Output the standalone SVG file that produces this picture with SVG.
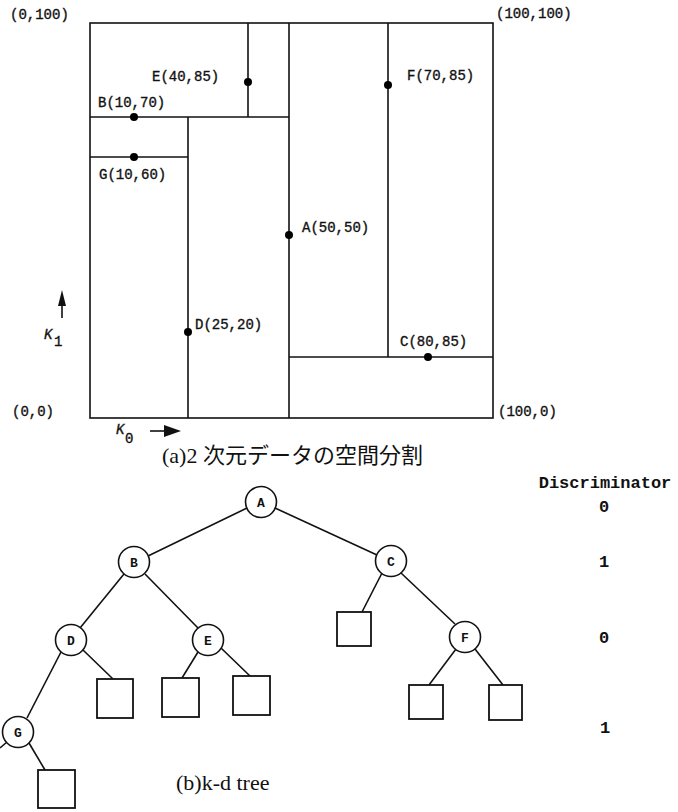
<svg xmlns="http://www.w3.org/2000/svg" width="678" height="812" viewBox="0 0 678 812">
<style>
.ln{stroke:#111;stroke-width:1.6;fill:none}
.dot{fill:#000}
.lbl{font-family:"Liberation Mono","DejaVu Sans Mono",monospace;font-size:14px;fill:#111;stroke:#111;stroke-width:0.35}
.nd{fill:#fff;stroke:#111;stroke-width:1.6}
.nt{font-family:"Liberation Mono","DejaVu Sans Mono",monospace;font-size:13px;font-weight:bold;fill:#111;text-anchor:middle}
.sq{fill:#fff;stroke:#111;stroke-width:1.8}
.cap{font-family:"Liberation Serif","Noto Sans CJK JP",serif;font-size:22px;fill:#111}
.disc{font-family:"Liberation Mono","DejaVu Sans Mono",monospace;font-size:17px;font-weight:bold;fill:#111;text-anchor:middle}
</style>
<rect width="678" height="812" fill="#fff"/>

<g id="partition">
<rect class="ln" x="90" y="23" width="403" height="395"/>
<line class="ln" x1="90" y1="117" x2="289" y2="117"/>
<line class="ln" x1="248" y1="23" x2="248" y2="117"/>
<line class="ln" x1="90" y1="157" x2="188" y2="157"/>
<line class="ln" x1="188" y1="117" x2="188" y2="418"/>
<line class="ln" x1="289" y1="23" x2="289" y2="418"/>
<line class="ln" x1="388" y1="23" x2="388" y2="357"/>
<line class="ln" x1="289" y1="357" x2="493" y2="357"/>
<circle class="dot" cx="248" cy="82" r="4"/>
<circle class="dot" cx="134" cy="117" r="4"/>
<circle class="dot" cx="134" cy="157" r="4"/>
<circle class="dot" cx="188" cy="332" r="4"/>
<circle class="dot" cx="289" cy="235" r="4"/>
<circle class="dot" cx="388" cy="85" r="4"/>
<circle class="dot" cx="428" cy="357" r="4"/>
<text class="lbl" x="10" y="19">(0,100)</text>
<text class="lbl" x="496" y="18">(100,100)</text>
<text class="lbl" x="12" y="416">(0,0)</text>
<text class="lbl" x="498" y="416">(100,0)</text>
<text class="lbl" x="152" y="81">E(40,85)</text>
<text class="lbl" x="98" y="107">B(10,70)</text>
<text class="lbl" x="99" y="179">G(10,60)</text>
<text class="lbl" x="407" y="80">F(70,85)</text>
<text class="lbl" x="302" y="232">A(50,50)</text>
<text class="lbl" x="195" y="329">D(25,20)</text>
<text class="lbl" x="400" y="346">C(80,85)</text>
<line class="ln" x1="62" y1="318" x2="62" y2="302" stroke-width="2"/>
<polygon points="58,306 66,306 62,290" fill="#111"/>
<text class="lbl" x="44" y="339" font-style="italic">K</text>
<text class="lbl" x="54" y="346" font-size="12">1</text>
<line class="ln" x1="150" y1="431" x2="168" y2="431" stroke-width="3"/>
<polygon points="164,425 164,437 181,431" fill="#111"/>
<text class="lbl" x="116" y="434" font-style="italic">K</text>
<text class="lbl" x="125" y="443" font-size="12">0</text>
<text class="cap" x="162" y="463">(a)2 次元データの空間分割</text>
</g>

<g id="connectors">
<line class="ln" x1="247" y1="508" x2="148" y2="556"/>
<line class="ln" x1="275" y1="508" x2="377" y2="555"/>
<line class="ln" x1="124" y1="574" x2="80" y2="628"/>
<line class="ln" x1="145" y1="574" x2="198" y2="628"/>
<line class="ln" x1="382" y1="573" x2="362" y2="612"/>
<line class="ln" x1="401" y1="573" x2="455" y2="624"/>
<line class="ln" x1="61" y1="652" x2="27" y2="718"/>
<line class="ln" x1="83" y1="650" x2="113" y2="679"/>
<line class="ln" x1="198" y1="652" x2="182" y2="678"/>
<line class="ln" x1="221" y1="648" x2="250" y2="676"/>
<line class="ln" x1="29" y1="743" x2="45" y2="770"/>
<line class="ln" x1="7" y1="742" x2="0" y2="748"/>
<line class="ln" x1="456" y1="649" x2="429" y2="685"/>
<line class="ln" x1="475" y1="649" x2="503" y2="685"/>
</g>

<g id="node-A"><circle class="nd" cx="261" cy="502" r="15.5"/><text class="nt" x="261" y="507">A</text></g>
<g id="node-B"><circle class="nd" cx="134" cy="562" r="15.5"/><text class="nt" x="134" y="567">B</text></g>
<g id="node-C"><circle class="nd" cx="391" cy="561" r="15.5"/><text class="nt" x="391" y="566">C</text></g>
<g id="node-D"><circle class="nd" cx="71" cy="640" r="15.5"/><text class="nt" x="71" y="645">D</text></g>
<g id="node-E"><circle class="nd" cx="208" cy="640" r="15.5"/><text class="nt" x="208" y="645">E</text></g>
<g id="node-F"><circle class="nd" cx="465" cy="637" r="15.5"/><text class="nt" x="465" y="642">F</text></g>
<g id="node-G"><circle class="nd" cx="18" cy="732" r="15.5"/><text class="nt" x="18" y="737">G</text></g>

<g id="leaf-C"><rect class="sq" x="337" y="612" width="34" height="34"/></g>
<g id="leaf-D"><rect class="sq" x="97" y="679" width="36" height="39"/></g>
<g id="leaf-E1"><rect class="sq" x="162" y="678" width="37" height="39"/></g>
<g id="leaf-E2"><rect class="sq" x="233" y="676" width="37" height="39"/></g>
<g id="leaf-G"><rect class="sq" x="38" y="770" width="37" height="38"/></g>
<g id="leaf-F1"><rect class="sq" x="409" y="685" width="34" height="34"/></g>
<g id="leaf-F2"><rect class="sq" x="489" y="685" width="33" height="35"/></g>

<g id="discriminator">
<text class="disc" x="605" y="488">Discriminator</text>
<text class="disc" x="604" y="512">0</text>
<text class="disc" x="604" y="567">1</text>
<text class="disc" x="604" y="643">0</text>
<text class="disc" x="605" y="733">1</text>
</g>
<text class="cap" x="176" y="790">(b)k-d tree</text>
</svg>
